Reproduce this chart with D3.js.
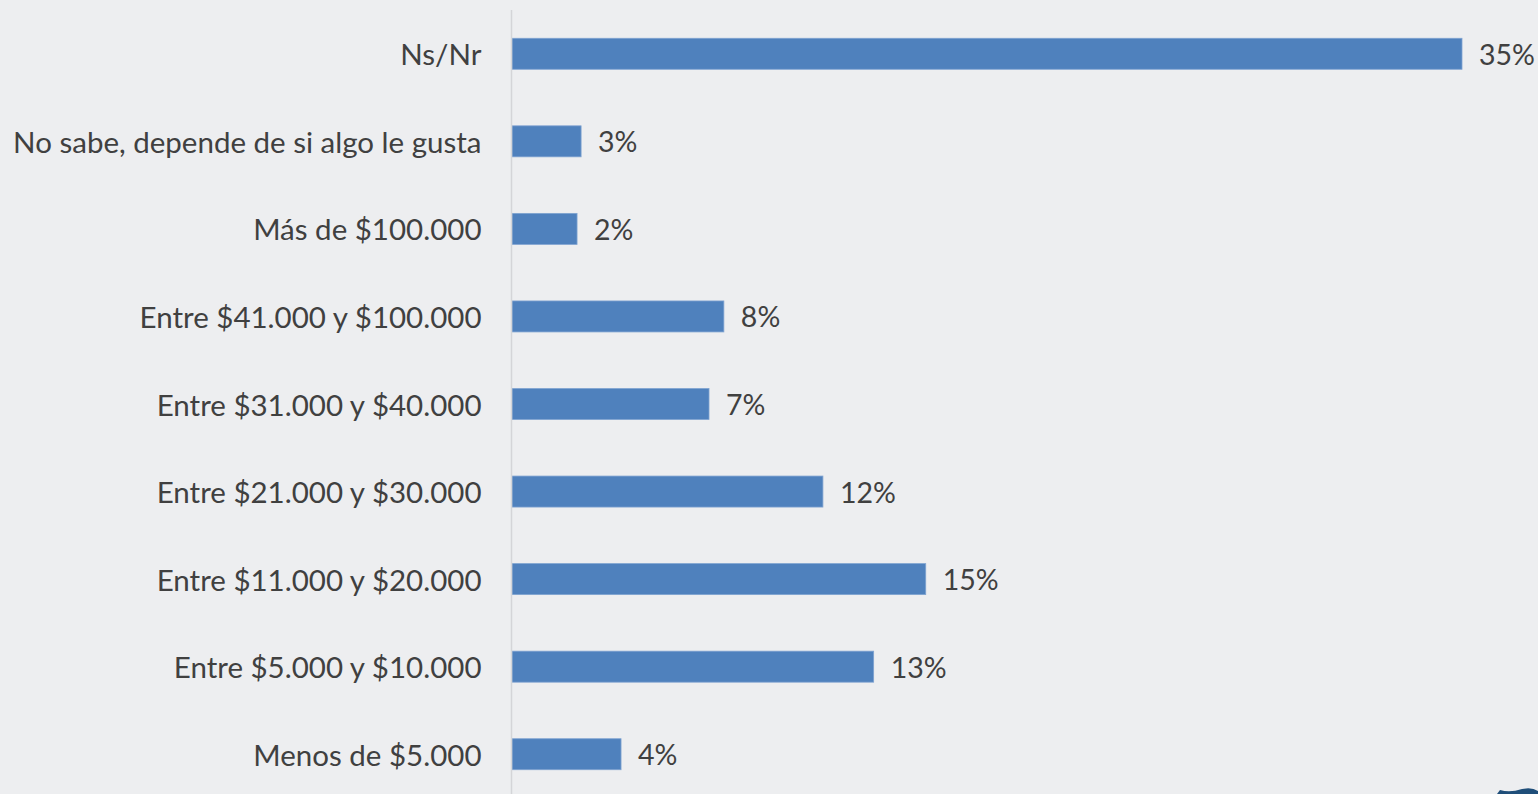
<!DOCTYPE html>
<html>
<head>
<meta charset="utf-8">
<script src="https://cdn.jsdelivr.net/npm/d3@7"></script>
<style>
  html, body { margin: 0; padding: 0; background: #edeef0; }
  svg { display: block; }
</style>
</head>
<body>
<svg id="chart" width="1538" height="794"></svg>
<script>
// categories top to bottom, values in percent
const categories = [
  'Ns/Nr',
  'No sabe, depende de si algo le gusta',
  'Más de $100.000',
  'Entre $41.000 y $100.000',
  'Entre $31.000 y $40.000',
  'Entre $21.000 y $30.000',
  'Entre $11.000 y $20.000',
  'Entre $5.000 y $10.000',
  'Menos de $5.000'
];
const values = [35.2, 2.56, 2.41, 7.85, 7.3, 11.52, 15.33, 13.4, 4.04];
const valueLabels = ['35%', '3%', '2%', '8%', '7%', '12%', '15%', '13%', '4%'];

const W = 1538, H = 794;
const axisX = 511.5;
const font = 'Lato, "Open Sans", sans-serif';
const textColor = '#404040';

const svg = d3.select('#chart');

const x = d3.scaleLinear().domain([0, 35.2]).range([axisX + 0.5, 1462]);
const y = d3.scaleBand().domain(categories).range([10, 798]).paddingInner(0.646).paddingOuter(0.323);

// bars
svg.append('g').selectAll('rect')
  .data(values)
  .join('rect')
    .attr('x', x(0))
    .attr('y', (d, i) => y(categories[i]))
    .attr('width', d => x(d) - x(0))
    .attr('height', y.bandwidth())
    .style('fill', '#4f81bd')
    .style('stroke', '#7fa3d1')
    .style('stroke-width', 0.8);

// vertical axis line
svg.append('line')
  .attr('x1', axisX).attr('x2', axisX)
  .attr('y1', 10).attr('y2', H)
  .style('stroke', '#d4d5d8').style('stroke-width', 1.5);

// category labels
svg.append('g').selectAll('text')
  .data(categories)
  .join('text')
    .attr('x', axisX - 30)
    .attr('y', d => y(d) + y.bandwidth() / 2)
    .attr('text-anchor', 'end')
    .attr('dominant-baseline', 'central')
    .style('font-family', font).style('font-size', '29.5px')
    .style('fill', textColor)
    .text(d => d);

// value labels
svg.append('g').selectAll('text')
  .data(values)
  .join('text')
    .attr('x', d => x(d) + 17)
    .attr('y', (d, i) => y(categories[i]) + y.bandwidth() / 2)
    .attr('dominant-baseline', 'central')
    .style('font-family', font).style('font-size', '28.5px')
    .style('fill', textColor)
    .text((d, i) => valueLabels[i]);

// partial logo peeking in at the bottom right corner
svg.append('path')
  .attr('d', 'M1497,794 L1500,790 Q1510,793 1522,789 Q1532,787 1538,791 L1538,794 Z')
  .style('fill', '#1f4e79');
</script>
</body>
</html>
